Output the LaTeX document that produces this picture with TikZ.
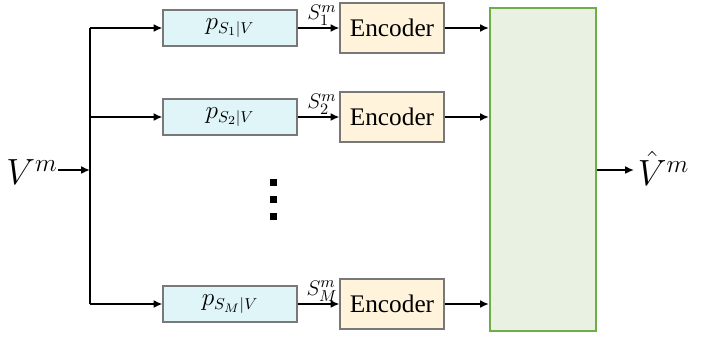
\documentclass[tikz,border=0pt]{standalone}
\usepackage{fontspec}
\setmainfont{Liberation Serif}
\usetikzlibrary{arrows.meta}

\definecolor{probColor}{RGB}{223,245,247}
\definecolor{encColor}{RGB}{255,244,219}
\definecolor{decColor}{RGB}{233,241,227}
\definecolor{decLine}{RGB}{112,173,71}
\definecolor{boxLine}{RGB}{120,120,120}

\tikzset{
  probbox/.style={draw=boxLine, fill=probColor, line width=0.6pt, minimum width=2.68cm, minimum height=0.72cm, inner sep=0pt, font=\fontsize{13.5}{16}\selectfont},
  encbox/.style={draw=boxLine, fill=encColor, line width=0.6pt, minimum width=2.08cm, minimum height=1cm, inner sep=0pt, font=\Large},
  decbox/.style={draw=decLine, fill=decColor, line width=1.2pt, minimum width=2.12cm, minimum height=6.46cm, inner sep=0pt},
  siglabel/.style={above, inner sep=0pt, yshift=1pt, xshift=2pt, font=\fontsize{13}{15}\selectfont},
  wire/.style={line width=1.1pt},
  sig/.style={wire, -{Latex[length=5pt,width=4.5pt]}}
}

\begin{document}
\begin{tikzpicture}[x=0.02cm,y=-0.02cm]
  \useasboundingbox (0,0) rectangle (712,339);
  % Source and split
  \node[anchor=east, inner sep=0pt, font=\huge] (vin) at (58,172) {$V^m$};
  \coordinate (split) at (90,170);
  \coordinate (top) at (90,28);
  \coordinate (bot) at (90,304);
  \draw[wire] (top) -- (bot);
  \draw[sig] (vin.east |- split) -- (split);
  % Test channels
  \node[probbox] (p1) at (230,28) {$p_{S_1|V}$};
  \node[probbox] (p2) at (230,117) {$p_{S_2|V}$};
  \node[probbox] (p3) at (230,304) {$p_{S_M|V}$};
  % Encoders
  \node[encbox] (e1) at (392,28) {Encoder};
  \node[encbox] (e2) at (392,117) {Encoder};
  \node[encbox] (e3) at (392,304) {Encoder};
  % Decoder
  \node[decbox] (dec) at (543,169.5) {};
  \node[anchor=west, inner sep=2pt, font=\huge] (vout) at (634,168) {$\hat{V}^m$};
  % Connections
  \draw[sig] (top) -- (p1);
  \draw[sig] (p2 -| top) -- (p2);
  \draw[sig] (bot) -- (p3);
  \draw[sig] (p1) -- node[siglabel]{$S_1^m$} (e1);
  \draw[sig] (p2) -- node[siglabel]{$S_2^m$} (e2);
  \draw[sig] (p3) -- node[siglabel]{$S_M^m$} (e3);
  \draw[sig] (e1) -- (e1 -| dec.west);
  \draw[sig] (e2) -- (e2 -| dec.west);
  \draw[sig] (e3) -- (e3 -| dec.west);
  \draw[sig] (dec.east |- split) -- (vout.west |- split);
  % Dots
  \foreach \yy in {182,199,216}
    \fill (273,\yy) ++(-3.5,-3.5) rectangle ++(7,7);
\end{tikzpicture}
\end{document}
